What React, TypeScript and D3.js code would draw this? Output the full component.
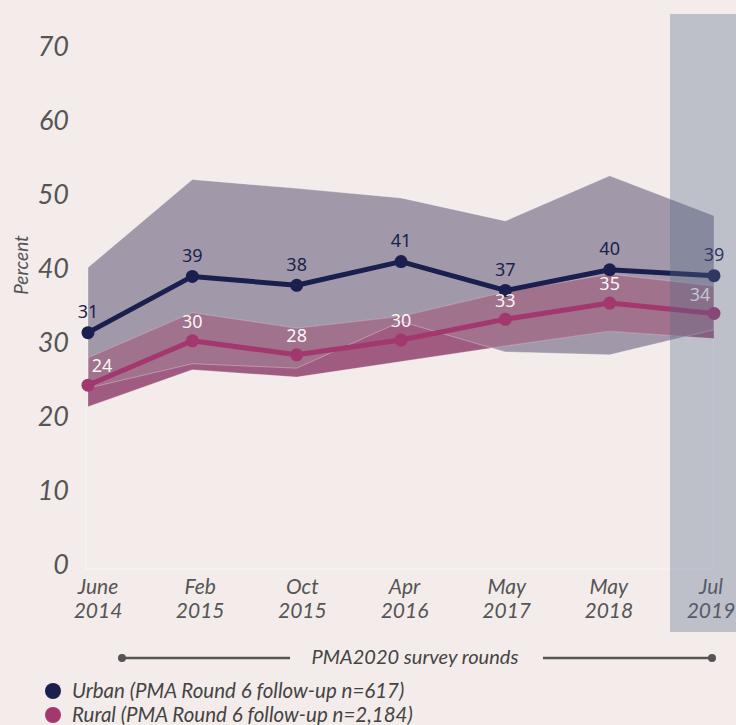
import React from 'react';
import * as d3 from 'd3';

const months = ["June", "Feb", "Oct", "Apr", "May", "May", "Jul"];
const years = ["2014", "2015", "2015", "2016", "2017", "2018", "2019"];
const urban = [31.4, 39.0, 37.8, 41.0, 37.1, 39.9, 39.1];
const rural = [24.3, 30.3, 28.4, 30.4, 33.2, 35.4, 34.0];
const urbanLow = [23.9, 27.2, 26.6, 32.9, 28.8, 28.4, 31.8];
const urbanHigh = [40.2, 52.1, 50.9, 49.6, 46.5, 52.6, 47.2];
const ruralLow = [21.4, 26.4, 25.4, 27.5, 29.6, 31.6, 30.6];
const ruralHigh = [28.0, 34.1, 32.0, 33.6, 36.9, 39.3, 37.7];
const yTicks = [0, 10, 20, 30, 40, 50, 60, 70];
const legendLabels = [
  "Urban (PMA Round 6 follow-up n=617)",
  "Rural (PMA Round 6 follow-up n=2,184)",
];
const axisTitle = "Percent";
const roundsTitle = "PMA2020 survey rounds";

const BG = "#f3ecea";
const URBAN = "#1b1f4e";
const RURAL = "#a2386e";
const GREY_BAND = "#a199aa";
const PINK_BAND = "#a05b80";
const OVERLAP = "#a1728b";
const TEXT = "#555";
const FONT = "Lato, 'Noto Sans', sans-serif";
const LABEL_FONT = "'Noto Sans', 'Open Sans', sans-serif";

export default function App() {
  const W = 736, H = 725;
  const idx = d3.range(months.length);
  const x = d3.scalePoint<number>().domain(idx).range([88, 714]);
  const xl = d3.scalePoint<number>().domain(idx).range([98, 711]);
  const y = d3.scaleLinear().domain([0, 70]).range([565, 47]);

  const band = (lo: number[], hi: number[]) =>
    d3.area<number>().x(i => x(i)!).y0(i => y(lo[i])).y1(i => y(hi[i]))(idx) || "";
  const line = (v: number[]) =>
    d3.line<number>().x(i => x(i)!).y(i => y(v[i]))(idx) || "";

  const urbanBand = band(urbanLow, urbanHigh);
  const ruralBand = band(ruralLow, ruralHigh);
  const last = idx.length - 1;

  return (
    <div style={{ position: "fixed", left: 0, top: 0, width: W, height: H, background: BG }}>
      <svg width={W} height={H} style={{ display: "block" }}>
        <defs>
          <clipPath id="urbanClip">
            <path d={urbanBand} />
          </clipPath>
        </defs>
        <rect x={0} y={0} width={W} height={H} fill={BG} />

        {/* faint frame */}
        <path d={`M86,407 V569 H713 V338`} fill="none" stroke="#ffffff" strokeOpacity={0.55} strokeWidth={1} />

        {/* y tick labels */}
        {yTicks.map(t => (
          <text key={t} x={69} y={y(t)} dy="0.35em" textAnchor="end"
            fontFamily={FONT} fontStyle="italic" fontSize={27} fill={TEXT}>{t}</text>
        ))}
        <text transform={`translate(28,265) rotate(-90)`} textAnchor="middle"
          fontFamily={FONT} fontStyle="italic" fontSize={19} fill={TEXT}>{axisTitle}</text>

        {/* bands */}
        <path d={urbanBand} fill={GREY_BAND} />
        <path d={ruralBand} fill={PINK_BAND} />
        <path d={ruralBand} fill={OVERLAP} clipPath="url(#urbanClip)" />
        <path d={urbanBand} fill="none" stroke="#ffffff" strokeOpacity={0.3} strokeWidth={1} />
        <path d={ruralBand} fill="none" stroke="#ffffff" strokeOpacity={0.25} strokeWidth={1} />

        {/* lines */}
        <path d={line(urban)} fill="none" stroke={URBAN} strokeWidth={5} strokeLinejoin="round" />
        <path d={line(rural)} fill="none" stroke={RURAL} strokeWidth={5} strokeLinejoin="round" />
        {idx.map(i => (
          <circle key={"u" + i} cx={x(i)} cy={y(urban[i])} r={6.5} fill={URBAN} />
        ))}
        {idx.map(i => (
          <circle key={"r" + i} cx={x(i)} cy={y(rural[i])} r={6.5} fill={RURAL} />
        ))}

        {/* value labels */}
        {idx.map(i => (
          <text key={"ul" + i} x={x(i)} y={y(urban[i]) - 21} dy="0.35em" textAnchor="middle"
            fontFamily={LABEL_FONT} fontSize={18} fill={URBAN}>{Math.round(urban[i])}</text>
        ))}
        {idx.map(i => (
          <text key={"rl" + i} x={x(i)! + (i === 0 ? 14 : i === last ? -14 : 0)} y={y(rural[i]) - 19}
            dy="0.35em" textAnchor="middle"
            fontFamily={LABEL_FONT} fontSize={18} fill="#ffffff" fillOpacity={0.95}>{Math.round(rural[i])}</text>
        ))}

        {/* x labels */}
        {idx.map(i => (
          <g key={"xl" + i} fontFamily={FONT} fontStyle="italic" fontSize={21} fill={TEXT} textAnchor="middle">
            <text x={xl(i)} y={587} dy="0.35em">{months[i]}</text>
            <text x={xl(i)} y={611} dy="0.35em">{years[i]}</text>
          </g>
        ))}

        {/* highlighted column */}
        <rect x={670} y={14} width={70} height={618} fill="#56698a" fillOpacity={0.34} />

        {/* survey rounds */}
        <g stroke="#555" strokeWidth={2.5} fill="#555">
          <line x1={122} x2={290} y1={658} y2={658} />
          <line x1={543} x2={712} y1={658} y2={658} />
          <circle cx={122} cy={658} r={4} stroke="none" />
          <circle cx={712} cy={658} r={4} stroke="none" />
        </g>
        <text x={415} y={657} dy="0.35em" textAnchor="middle" fontFamily={FONT} fontStyle="italic"
          fontSize={20} fill="#444">{roundsTitle}</text>

        {/* legend */}
        {legendLabels.map((l, i) => (
          <g key={l}>
            <circle cx={53} cy={691 + i * 24} r={8} fill={i === 0 ? URBAN : RURAL} />
            <text x={72} y={691 + i * 24} dy="0.35em" fontFamily={FONT} fontStyle="italic"
              fontSize={20.5} fill="#444">{l}</text>
          </g>
        ))}
      </svg>
    </div>
  );
}
